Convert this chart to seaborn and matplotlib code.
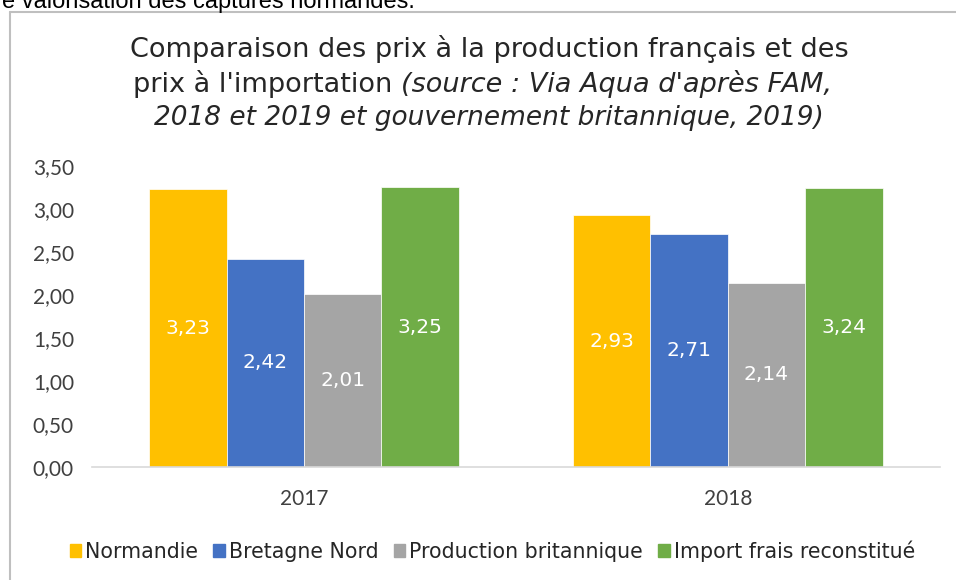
import pandas as pd
import seaborn as sns
import matplotlib.pyplot as plt
from matplotlib.lines import Line2D
from matplotlib.ticker import FuncFormatter

years = ["2017", "2018"]
series = ["Normandie", "Bretagne Nord", "Production britannique", "Import frais reconstitué"]
normandie = [3.23, 2.93]
bretagne_nord = [2.42, 2.71]
production_brit = [2.01, 2.14]
import_frais = [3.25, 3.24]
colors = ["#FFC000", "#4472C4", "#A5A5A5", "#70AD47"]

rows = []
for name, vals in zip(series, [normandie, bretagne_nord, production_brit, import_frais]):
    for y, v in zip(years, vals):
        rows.append({"Année": y, "Série": name, "Prix": v})
df = pd.DataFrame(rows)

sns.set_theme(style="white")
plt.rcParams["font.family"] = ["DejaVu Sans"]

fig = plt.figure(figsize=(9.56, 5.8), dpi=100)
ax = fig.add_axes([0.0962, 0.1948, 0.8868, 0.519])

sns.barplot(data=df, x="Année", y="Prix", hue="Série", palette=colors,
            width=0.73, saturation=1, ax=ax, legend=False, linewidth=0.5)

for c in ax.containers:
    ax.bar_label(c, labels=[f"{v:.2f}".replace(".", ",") for v in c.datavalues],
                 label_type="center", color="white", fontsize=14.5)

ax.set_xlim(-0.5, 1.5)
ax.set_ylim(0, 3.5)
ax.set_yticks([i * 0.5 for i in range(8)])
ax.yaxis.set_major_formatter(FuncFormatter(lambda v, p: f"{v:.2f}".replace(".", ",")))
ax.set_xlabel("")
ax.set_ylabel("")
for s in ["top", "right", "left"]:
    ax.spines[s].set_visible(False)
ax.spines["bottom"].set_color("#d9d9d9")
ax.spines["bottom"].set_linewidth(1.2)
ax.tick_params(axis="both", length=0, labelsize=15, labelcolor="#404040")
ax.tick_params(axis="y", pad=13)
ax.tick_params(axis="x", pad=16)
for lab in ax.get_xticklabels() + ax.get_yticklabels():
    lab.set_family("Lato")

# titre : ligne du milieu en deux styles, recentrée après mesure
tsize = 19.5
tcol = "#262626"
fig.text(0.512, 0.915, "Comparaison des prix à la production français et des",
         ha="center", va="center", fontsize=tsize, color=tcol)
t_a = fig.text(0.5, 0.855, "prix à l'importation ", ha="left", va="center",
               fontsize=tsize, color=tcol)
t_b = fig.text(0.5, 0.855, "(source : Via Aqua d'après FAM,", ha="left", va="center",
               fontsize=tsize, color=tcol, style="italic")
fig.text(0.511, 0.797, "2018 et 2019 et gouvernement britannique, 2019)",
         ha="center", va="center", fontsize=19, color=tcol, style="italic")
r = fig.canvas.get_renderer()
wa = t_a.get_window_extent(r).width / fig.bbox.width
wb = t_b.get_window_extent(r).width / fig.bbox.width
x0 = 0.505 - (wa + wb) / 2
t_a.set_x(x0)
t_b.set_x(x0 + wa)

handles = [plt.Rectangle((0, 0), 1, 1, color=c) for c in colors]
leg = fig.legend(handles, series, loc="center", bbox_to_anchor=(0.515, 0.05), ncol=4,
                 frameon=False, fontsize=14.8, handlelength=0.55, handleheight=0.55,
                 handletextpad=0.2, columnspacing=0.75)
for t in leg.get_texts():
    t.set_color(tcol)

# cadre du graphique et texte coupé au-dessus
fig.add_artist(Line2D([10 / 956, 10 / 956], [0, 1 - 12 / 580], color="#bfbfbf", lw=1.5))
fig.add_artist(Line2D([10 / 956, 1], [1 - 12 / 580, 1 - 12 / 580], color="#bfbfbf", lw=1.5))
fig.text(415 / 956, 1 - 8 / 580, "meilleure valorisation des captures normandes.",
         ha="right", va="baseline", fontsize=17, color="black", family="Liberation Sans")

fig.savefig("out.png", dpi=100)
